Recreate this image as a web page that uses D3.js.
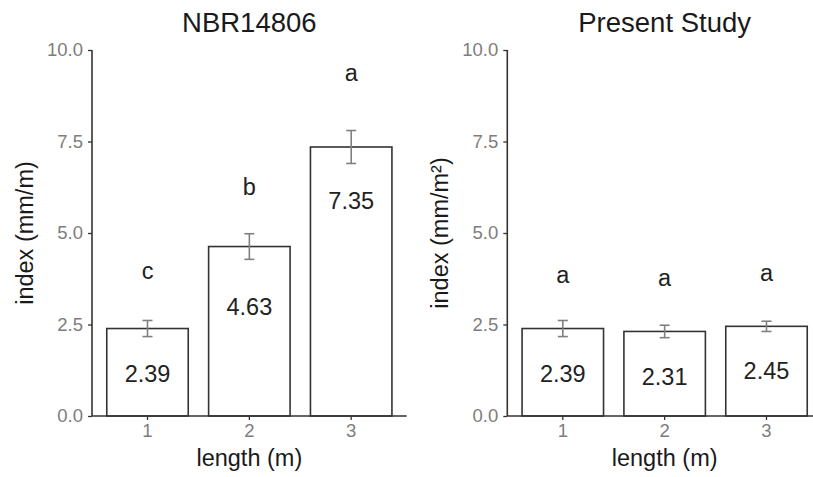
<!DOCTYPE html>
<html><head><meta charset="utf-8">
<script src="https://cdn.jsdelivr.net/npm/d3@7"></script>
<style>body{margin:0;background:#fff}svg{display:block;font-family:"Liberation Sans",Arial,sans-serif}</style>
</head><body><svg id="c" width="813" height="477"></svg>
<script>
const categories = ["1", "2", "3"];
const yTicks = [0, 2.5, 5, 7.5, 10];
const titles = ["NBR14806", "Present Study"];
const yLabels = ["index (mm/m)", "index (mm/m²)"];
const xLabel = "length (m)";
const nbrMeans = [2.39, 4.63, 7.35];
const nbrErr = [0.22, 0.35, 0.45];
const nbrLetters = ["c", "b", "a"];
const nbrLetterY = [3.74, 6.04, 9.16];
const nbrValueY = [0.94, 2.76, 5.66];
const psMeans = [2.39, 2.31, 2.45];
const psErr = [0.22, 0.17, 0.14];
const psLetters = ["a", "a", "a"];
const psLetterY = [3.63, 3.56, 3.70];
const psValueY = [0.94, 0.86, 1.00];

const panels = [
  {title: titles[0], ylab: yLabels[0], means: nbrMeans, err: nbrErr, letters: nbrLetters, letterY: nbrLetterY, valueY: nbrValueY, x0: 92, x1: 406.7},
  {title: titles[1], ylab: yLabels[1], means: psMeans, err: psErr, letters: psLetters, letterY: psLetterY, valueY: psValueY, x0: 507.3, x1: 822}
];
const svg = d3.select("#c");
const y = d3.scaleLinear().domain([0, 10]).range([416, 50]);
const tickCol = "#7d7d7d", axisCol = "#333";

panels.forEach(p => {
  const g = svg.append("g");
  const x = d3.scaleBand().domain(categories).range([p.x0, p.x1]).paddingInner(0.2).paddingOuter(0.145);
  const data = categories.map((c, i) => ({c, m: p.means[i], e: p.err[i], l: p.letters[i], ly: p.letterY[i], vy: p.valueY[i]}));

  g.selectAll("rect.bar").data(data).join("rect")
    .attr("x", d => x(d.c)).attr("width", x.bandwidth())
    .attr("y", d => y(d.m)).attr("height", d => y(0) - y(d.m))
    .attr("fill", "#fff").attr("stroke", axisCol).attr("stroke-width", 1.6);

  const eb = g.selectAll("g.eb").data(data).join("g").attr("stroke", "#808080").attr("stroke-width", 1.6);
  const cx = d => x(d.c) + x.bandwidth() / 2;
  eb.append("line").attr("x1", cx).attr("x2", cx).attr("y1", d => y(d.m + d.e)).attr("y2", d => y(d.m - d.e));
  eb.append("line").attr("x1", d => cx(d) - 5).attr("x2", d => cx(d) + 5).attr("y1", d => y(d.m + d.e)).attr("y2", d => y(d.m + d.e));
  eb.append("line").attr("x1", d => cx(d) - 5).attr("x2", d => cx(d) + 5).attr("y1", d => y(d.m - d.e)).attr("y2", d => y(d.m - d.e));

  g.selectAll("text.val").data(data).join("text")
    .attr("x", cx).attr("y", d => y(d.vy)).attr("text-anchor", "middle")
    .attr("font-size", 23.5).attr("fill", "#222").text(d => d.m.toFixed(2));
  g.selectAll("text.let").data(data).join("text")
    .attr("x", cx).attr("y", d => y(d.ly)).attr("text-anchor", "middle")
    .attr("font-size", 23.5).attr("fill", "#222").text(d => d.l);

  const ya = g.append("g").attr("transform", `translate(${p.x0},0)`)
    .call(d3.axisLeft(y).tickValues(yTicks).tickFormat(d3.format(".1f")).tickSizeOuter(0).tickSize(4).tickPadding(5));
  const xa = g.append("g").attr("transform", `translate(0,${y(0)})`)
    .call(d3.axisBottom(x).tickSizeOuter(0).tickSize(4).tickPadding(4));
  [ya, xa].forEach(a => {
    a.select(".domain").attr("stroke", axisCol).attr("stroke-width", 1.6);
    a.selectAll(".tick line").attr("stroke", axisCol).attr("stroke-width", 1.3);
    a.selectAll(".tick text").attr("fill", tickCol).attr("font-size", 18.5).attr("font-family", "Liberation Sans, Arial, sans-serif");
  });
  xa.select(".domain").attr("d", `M${p.x0},0H${p.x1}`);
  ya.select(".domain").attr("d", `M0,${y(0)}V${y(10)}`);

  g.append("text").attr("x", (p.x0 + p.x1) / 2).attr("y", 32).attr("text-anchor", "middle")
    .attr("font-size", 27.5).attr("fill", "#1a1a1a").text(p.title);
  g.append("text").attr("x", (p.x0 + p.x1) / 2).attr("y", 466).attr("text-anchor", "middle")
    .attr("font-size", 23.5).attr("fill", "#1a1a1a").text(xLabel);
  g.append("text").attr("transform", `translate(${p.x0 - 59},${(y(0) + y(10)) / 2}) rotate(-90)`)
    .attr("text-anchor", "middle").attr("font-size", 23.5).attr("fill", "#1a1a1a").text(p.ylab);
});
</script></body></html>
